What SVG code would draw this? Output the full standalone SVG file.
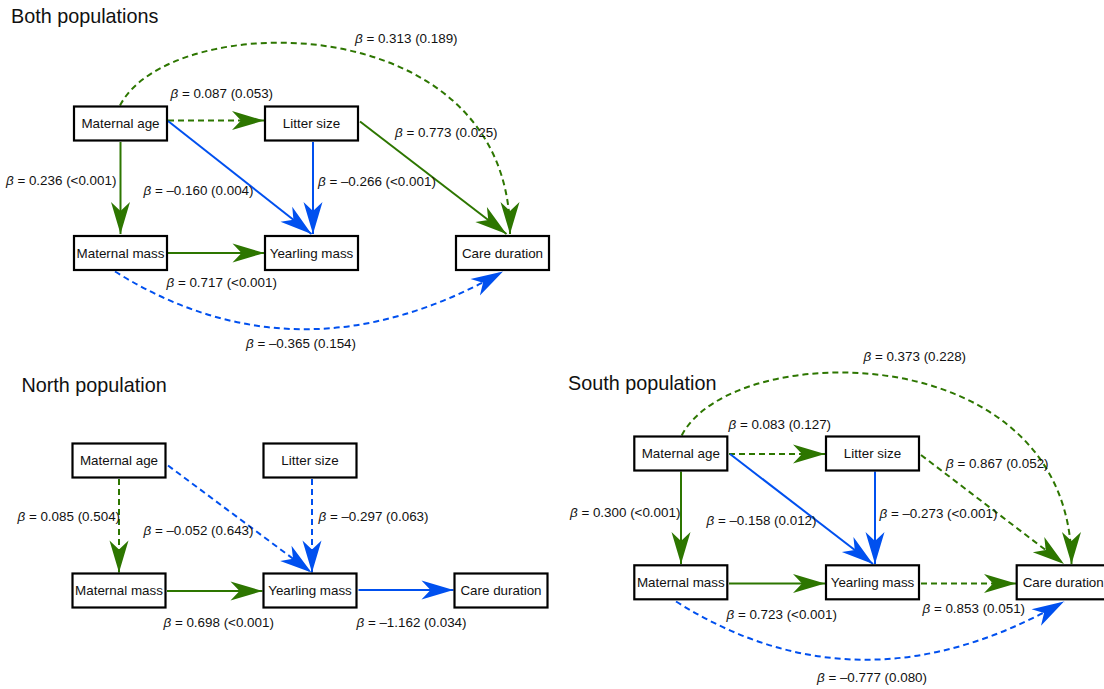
<svg xmlns="http://www.w3.org/2000/svg" width="1104" height="689" viewBox="0 0 1104 689">
<style>
.node rect{fill:#fff;stroke:#000;stroke-width:2.2}
.node text{font-family:"Liberation Sans",Arial,sans-serif;font-size:13.4px;fill:#111;text-anchor:middle}
.title{font-family:"Liberation Sans",Arial,sans-serif;font-size:19.8px;fill:#111}
.lbl{font-family:"Liberation Sans",Arial,sans-serif;font-size:13.4px;fill:#111}
.b{font-style:italic}
.g{fill:none;stroke:#2D7600;stroke-width:2;marker-end:url(#ag)}
.u{fill:none;stroke:#0050EF;stroke-width:2;marker-end:url(#ab)}
.d{stroke-dasharray:6 4}
</style>
<defs>
<marker id="ag" markerUnits="userSpaceOnUse" markerWidth="36" markerHeight="24" viewBox="-34 -12 36 24" refX="0" refY="0" orient="auto"><path d="M0,0 L-32,-9.5 L-23,0 L-32,9.5 Z" fill="#2D7600"/></marker>
<marker id="ab" markerUnits="userSpaceOnUse" markerWidth="36" markerHeight="24" viewBox="-34 -12 36 24" refX="0" refY="0" orient="auto"><path d="M0,0 L-32,-9.5 L-23,0 L-32,9.5 Z" fill="#0050EF"/></marker>
</defs>
<rect width="1104" height="689" fill="#fff"/>
<text class="title" x="11" y="22.5">Both populations</text>
<text class="title" x="21.5" y="391.5">North population</text>
<text class="title" x="568" y="390">South population</text>
<g id="connectors">
<path class="g d" d="M168,120.5 H264"/>
<path class="g" d="M120.5,142 V234"/>
<path class="u" d="M168,121 L311.5,234"/>
<path class="u" d="M313,142 V234"/>
<path class="g" d="M168,253 H264.5"/>
<path class="g" d="M360,121.5 L506.5,234"/>
<path class="g d" d="M120,105.5 C170,8 510,5 510,234"/>
<path class="u d" d="M115,271.5 Q300,387 503,271.5"/>
<path class="g d" d="M119,479 V572.5"/>
<path class="u d" d="M168,465.5 L311.5,572.5"/>
<path class="u d" d="M312,479 V572.5"/>
<path class="g" d="M167,591 H262.5"/>
<path class="u" d="M358.5,590 H453.5"/>
<path class="g" d="M681,471.5 V564"/>
<path class="g d" d="M729,454 H825"/>
<path class="u" d="M730,454 L873,564"/>
<path class="u" d="M875,471.5 V564"/>
<path class="g" d="M729,583.5 H825"/>
<path class="g d" d="M921,583.5 H1016"/>
<path class="g d" d="M921,455 L1064,564"/>
<path class="g d" d="M681.7,435.5 C731.7,337.7 1071.5,334.7 1071.5,564"/>
<path class="u d" d="M676,601.5 Q861,718 1064,601.5"/>
</g>
<g id="labels">
<text class="lbl" x="355" y="42.5"><tspan class="b">β</tspan> = 0.313 (0.189)</text>
<text class="lbl" x="170.5" y="98"><tspan class="b">β</tspan> = 0.087 (0.053)</text>
<text class="lbl" x="395" y="136.5"><tspan class="b">β</tspan> = 0.773 (0.025)</text>
<text class="lbl" x="6" y="184.5"><tspan class="b">β</tspan> = 0.236 (&lt;0.001)</text>
<text class="lbl" x="143.5" y="195"><tspan class="b">β</tspan> = –0.160 (0.004)</text>
<text class="lbl" x="318" y="186"><tspan class="b">β</tspan> = –0.266 (&lt;0.001)</text>
<text class="lbl" x="166.5" y="286.5"><tspan class="b">β</tspan> = 0.717 (&lt;0.001)</text>
<text class="lbl" x="246" y="348"><tspan class="b">β</tspan> = –0.365 (0.154)</text>
<text class="lbl" x="17.5" y="520.5"><tspan class="b">β</tspan> = 0.085 (0.504)</text>
<text class="lbl" x="143.5" y="534.5"><tspan class="b">β</tspan> = –0.052 (0.643)</text>
<text class="lbl" x="318.5" y="520.5"><tspan class="b">β</tspan> = –0.297 (0.063)</text>
<text class="lbl" x="163.5" y="626.5"><tspan class="b">β</tspan> = 0.698 (&lt;0.001)</text>
<text class="lbl" x="356.5" y="626.5"><tspan class="b">β</tspan> = –1.162 (0.034)</text>
<text class="lbl" x="863.5" y="360.5"><tspan class="b">β</tspan> = 0.373 (0.228)</text>
<text class="lbl" x="728.5" y="429"><tspan class="b">β</tspan> = 0.083 (0.127)</text>
<text class="lbl" x="946" y="467.5"><tspan class="b">β</tspan> = 0.867 (0.052)</text>
<text class="lbl" x="570" y="516.5"><tspan class="b">β</tspan> = 0.300 (&lt;0.001)</text>
<text class="lbl" x="706.5" y="525"><tspan class="b">β</tspan> = –0.158 (0.012)</text>
<text class="lbl" x="879.5" y="518"><tspan class="b">β</tspan> = –0.273 (&lt;0.001)</text>
<text class="lbl" x="726.5" y="619"><tspan class="b">β</tspan> = 0.723 (&lt;0.001)</text>
<text class="lbl" x="922.5" y="613"><tspan class="b">β</tspan> = 0.853 (0.051)</text>
<text class="lbl" x="817" y="681.5"><tspan class="b">β</tspan> = –0.777 (0.080)</text>
</g>
<g id="both-maternal-age" class="node"><rect x="74" y="106.5" width="93" height="34"/><text x="120.5" y="128.3">Maternal age</text></g>
<g id="both-litter-size" class="node"><rect x="265" y="106.5" width="93" height="34"/><text x="311.5" y="128.3">Litter size</text></g>
<g id="both-maternal-mass" class="node"><rect x="74" y="236" width="93" height="34"/><text x="120.5" y="257.8">Maternal mass</text></g>
<g id="both-yearling-mass" class="node"><rect x="265" y="236" width="93" height="34"/><text x="311.5" y="257.8">Yearling mass</text></g>
<g id="both-care-duration" class="node"><rect x="456" y="236" width="93" height="34"/><text x="502.5" y="257.8">Care duration</text></g>
<g id="north-maternal-age" class="node"><rect x="72.5" y="443.5" width="93" height="34"/><text x="119" y="465.3">Maternal age</text></g>
<g id="north-litter-size" class="node"><rect x="263.5" y="443.5" width="93" height="34"/><text x="310" y="465.3">Litter size</text></g>
<g id="north-maternal-mass" class="node"><rect x="72.5" y="573.5" width="93" height="34"/><text x="119" y="595.3">Maternal mass</text></g>
<g id="north-yearling-mass" class="node"><rect x="263.5" y="573.5" width="93" height="34"/><text x="310" y="595.3">Yearling mass</text></g>
<g id="north-care-duration" class="node"><rect x="454.5" y="573.5" width="93" height="34"/><text x="501" y="595.3">Care duration</text></g>
<g id="south-maternal-age" class="node"><rect x="634.3" y="436.5" width="93" height="34"/><text x="680.8" y="458.3">Maternal age</text></g>
<g id="south-litter-size" class="node"><rect x="826" y="436.5" width="93" height="34"/><text x="872.5" y="458.3">Litter size</text></g>
<g id="south-maternal-mass" class="node"><rect x="634.3" y="565.3" width="93" height="34"/><text x="680.8" y="587.1">Maternal mass</text></g>
<g id="south-yearling-mass" class="node"><rect x="826" y="565.3" width="93" height="34"/><text x="872.5" y="587.1">Yearling mass</text></g>
<g id="south-care-duration" class="node"><rect x="1016.7" y="565.3" width="93" height="34"/><text x="1063.2" y="587.1">Care duration</text></g>
</svg>
